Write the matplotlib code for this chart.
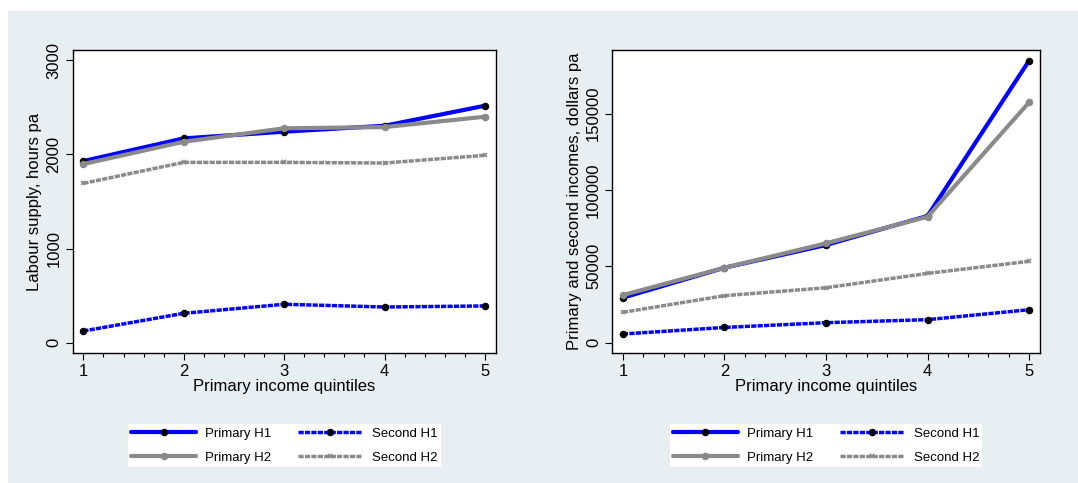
import matplotlib
matplotlib.use("Agg")
import matplotlib.pyplot as plt
from matplotlib.patches import Rectangle
from matplotlib.ticker import MultipleLocator

plt.rcParams['font.family'] = ['Liberation Sans', 'DejaVu Sans']

quintiles = [1, 2, 3, 4, 5]

# Left panel: labour supply, hours pa
hours_primary_h1 = [1930, 2171, 2242, 2305, 2518]
hours_primary_h2 = [1898, 2135, 2278, 2291, 2401]
hours_second_h1 = [124, 312, 408, 379, 390]
hours_second_h2 = [1693, 1916, 1916, 1909, 1991]

# Right panel: incomes, dollars pa
inc_primary_h1 = [29500, 49100, 64000, 83000, 184700]
inc_primary_h2 = [31200, 49100, 65100, 82500, 157400]
inc_second_h1 = [5700, 10000, 13100, 15100, 21600]
inc_second_h2 = [19900, 30800, 36000, 45400, 53300]

series_labels = ["Primary H1", "Second H1", "Primary H2", "Second H2"]
x_label = "Primary income quintiles"
y_labels = ["Labour supply, hours pa", "Primary and second incomes, dollars pa"]

BLUE = "#0000FF"
GRAY = "#8A8A8A"
BG = "#E8EFF2"

W, H = 1078, 483
fig = plt.figure(figsize=(W / 100, H / 100), dpi=100)
fig.patch.set_facecolor("white")
fig.patches.append(Rectangle((8 / W, 0), 1, (H - 11) / H, transform=fig.transFigure,
                             facecolor=BG, edgecolor="none", zorder=-10))


def fx(px):
    return px / W


def fy(py):
    return 1 - py / H


def panel(rect, ydata, yticks, ylim, ylabel):
    l, t, r, b = rect
    ax = fig.add_axes([fx(l), fy(b), fx(r) - fx(l), fy(t) - fy(b)])
    ax.set_facecolor("white")
    ph1, sh1, ph2, sh2 = ydata
    dash = (1.5, 0.35)
    l1, = ax.plot(quintiles, ph1, color=BLUE, lw=3.0, marker='o', ms=4.4,
                  mfc='black', mec='black', label=series_labels[0], solid_capstyle='round')
    l2, = ax.plot(quintiles, sh1, color=BLUE, lw=2.5, dashes=dash, marker='o', ms=4.4,
                  mfc='black', mec='black', label=series_labels[1])
    l3, = ax.plot(quintiles, ph2, color=GRAY, lw=3.0, marker='o', ms=4.4,
                  mfc=GRAY, mec=GRAY, label=series_labels[2], solid_capstyle='round')
    l4, = ax.plot(quintiles, sh2, color=GRAY, lw=2.5, dashes=dash, marker='x', ms=3,
                  mew=1.2, mfc=GRAY, mec=GRAY, label=series_labels[3])
    ax.set_xlim(0.894, 5.107)
    ax.set_ylim(*ylim)
    ax.set_xticks(quintiles)
    ax.xaxis.set_minor_locator(MultipleLocator(0.2))
    ax.set_yticks(yticks)
    ax.tick_params(axis='both', which='major', direction='out', length=5, width=0.8,
                   labelsize=12, pad=3)
    ax.tick_params(axis='x', which='minor', direction='out', length=3, width=0.8)
    ax.tick_params(axis='y', labelrotation=90)
    for lab in ax.get_yticklabels():
        lab.set_va('center')
    for s in ax.spines.values():
        s.set_linewidth(1.0)
        s.set_color('black')
    ax.set_xlabel(x_label, fontsize=12, labelpad=0)
    ax.set_ylabel(ylabel, fontsize=12, labelpad=3)
    leg = ax.legend(handles=[l1, l3, l2, l4], ncol=2, loc='center',
                    bbox_to_anchor=(0.5, -0.305), fontsize=9.5, frameon=True,
                    fancybox=False, edgecolor='white', facecolor='white', framealpha=1,
                    handlelength=4.9, handletextpad=0.7, columnspacing=2.0,
                    labelspacing=0.9, borderpad=0.25, borderaxespad=0)
    leg.get_frame().set_linewidth(0)
    return ax


panel((72.7, 50, 495.7, 353.3),
      (hours_primary_h1, hours_second_h1, hours_primary_h2, hours_second_h2),
      [0, 1000, 2000, 3000], (-113, 3110), y_labels[0])
ax2 = panel((612.3, 50, 1040, 353.3),
            (inc_primary_h1, inc_second_h1, inc_primary_h2, inc_second_h2),
            [0, 50000, 100000, 150000], (-6943, 191730), y_labels[1])
ax2.set_xlim(0.895, 5.108)

fig.savefig("out.png", dpi=100, facecolor=fig.get_facecolor())
